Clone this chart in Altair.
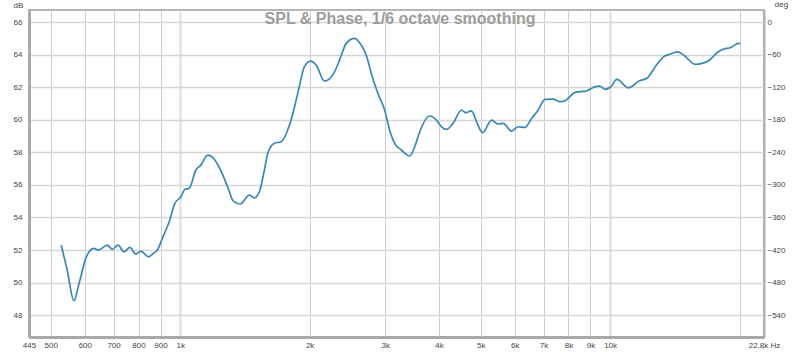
import altair as alt
import pandas as pd

chart_title = ["SPL & Phase, 1/6 octave smoothing"]

freq_hz = [529, 546, 566, 582, 605, 630, 645, 677, 695, 717, 740, 764, 788, 810,
           844, 870, 885, 909, 943, 972, 1004, 1026, 1049, 1088, 1117, 1158, 1190,
           1244, 1289, 1329, 1380, 1448, 1488, 1528, 1570, 1598, 1656, 1717, 1811,
           1877, 1945, 2009, 2072, 2166, 2286, 2348, 2433, 2544, 2637, 2709, 2783,
           2884, 2989, 3070, 3154, 3269, 3419, 3512, 3607, 3805, 3945, 4053, 4163,
           4313, 4511, 4616, 4760, 4890, 5050, 5300, 5490, 5640, 5900, 6114, 6338,
           6569, 6806, 7054, 7376, 7645, 7857, 8287, 8823, 9143, 9443, 9734, 10037,
           10365, 11033, 11703, 12176, 12733, 13311, 13800, 14353, 14823, 15782,
           16361, 16947, 17730, 18369, 19042, 19910, 20090]
spl_db = [52.30, 50.77, 48.88, 49.95, 51.58, 52.10, 52.00, 52.30, 52.04, 52.30,
          51.89, 52.16, 51.75, 51.93, 51.58, 51.83, 52.00, 52.72, 53.74, 54.87,
          55.27, 55.73, 55.79, 56.92, 57.22, 57.84, 57.70, 56.87, 55.89, 55.01,
          54.83, 55.38, 55.21, 55.58, 56.92, 57.94, 58.56, 58.66, 59.99, 61.63,
          63.27, 63.62, 63.37, 62.39, 62.96, 63.68, 64.71, 65.02, 64.60, 63.99,
          62.86, 61.63, 60.61, 59.38, 58.56, 58.15, 57.78, 58.35, 59.27, 60.24,
          59.99, 59.58, 59.42, 59.79, 60.61, 60.44, 60.56, 59.89, 59.21, 59.99,
          59.75, 59.79, 59.31, 59.58, 59.54, 60.10, 60.61, 61.26, 61.28, 61.12,
          61.18, 61.69, 61.79, 62.00, 62.08, 61.88, 62.04, 62.49, 61.98, 62.41,
          62.56, 63.27, 63.88, 64.05, 64.19, 63.99, 63.42, 63.48, 63.64, 64.13,
          64.36, 64.44, 64.71, 64.71]

x_ticks = [445, 500, 600, 700, 800, 900, 1000, 2000, 3000, 4000, 5000, 6000,
           7000, 8000, 9000, 10000, 20000, 22800]
x_tick_labels = ["445", "500", "600", "700", "800", "900", "1k", "2k", "3k", "4k",
                 "5k", "6k", "7k", "8k", "9k", "10k", "", "22,8k Hz"]
db_ticks = [48, 50, 52, 54, 56, 58, 60, 62, 64, 66]
deg_ticks = [0, -60, -120, -180, -240, -300, -360, -420, -480, -540]
db_domain = [46.65, 66.76]
deg_domain = [-580.5, 22.8]
x_domain = [445, 22800]

W, H = 735, 327
FONT = "Liberation Sans"

df = pd.DataFrame({"freq": freq_hz, "spl": spl_db})

label_expr = "''"
for v, t in reversed(list(zip(x_ticks, x_tick_labels))):
    label_expr = f"datum.value == {v} ? '{t}' : ({label_expr})"

x_enc = alt.X(
    "freq:Q",
    scale=alt.Scale(type="log", domain=x_domain, nice=False),
    axis=alt.Axis(
        values=x_ticks, labelExpr=label_expr, title=None, ticks=False, tickSize=0,
        labelPadding=4, labelFontSize=8, labelColor="#444", labelFont=FONT,
        labelFlush=False, labelOverlap=False,
        domainColor="#a9a9a9", domainWidth=3,
        grid=True,
        gridColor={"condition": {"test": "datum.value == 1000 || datum.value == 10000",
                                 "value": "#dedede"}, "value": "#cdcdcd"},
        gridWidth={"condition": {"test": "datum.value == 1000 || datum.value == 10000",
                                 "value": 2}, "value": 1},
    ),
)

line = alt.Chart(df).mark_line(
    color="#3a88b5", strokeWidth=1.7, clip=True, interpolate="monotone"
).encode(
    x=x_enc,
    y=alt.Y(
        "spl:Q",
        scale=alt.Scale(domain=db_domain, nice=False, zero=False),
        axis=alt.Axis(
            values=db_ticks, title="dB", titleAngle=0, titleX=-11, titleY=-5,
            titleAlign="center", titleBaseline="middle", titleFontSize=8,
            titleFontWeight="normal", titleColor="#444", titleFont=FONT,
            ticks=False, tickSize=0, labelPadding=7, labelFontSize=8,
            labelColor="#444", labelFont=FONT,
            domainColor="#a9a9a9", domainWidth=3,
            grid=True, gridColor="#d6d6d6", gridWidth=1.5,
        ),
    ),
)

phase_axis = alt.Chart(df).mark_line(opacity=0).transform_calculate(
    deg="(datum.spl - 66) * 30"
).encode(
    x=alt.X("freq:Q", scale=alt.Scale(type="log", domain=x_domain, nice=False)),
    y=alt.Y(
        "deg:Q",
        scale=alt.Scale(domain=deg_domain, nice=False, zero=False),
        axis=alt.Axis(
            orient="right", values=deg_ticks, title="deg", titleAngle=0,
            titleX=17, titleY=-6, titleAlign="center", titleBaseline="middle",
            titleFontSize=8, titleFontWeight="normal", titleColor="#444",
            titleFont=FONT, ticks=False, tickSize=0, labelPadding=3,
            labelFontSize=8, labelColor="#444", labelFont=FONT,
            domainColor="#b0b0b0", domainWidth=2, grid=False,
        ),
    ),
)

title_layer = alt.Chart(pd.DataFrame({"t": chart_title})).mark_text(
    fontSize=16, fontWeight="bold", color="#9c9c9c", font=FONT,
    align="center", baseline="middle",
).encode(text="t:N", x=alt.value(371), y=alt.value(9))

chart = (
    alt.layer(line, phase_axis, title_layer)
    .resolve_scale(y="independent")
    .properties(
        width=W, height=H,
        autosize=alt.AutoSizeParams(type="none"),
        padding={"left": 29, "top": 10, "right": 36, "bottom": 15},
        background="white",
    )
    .configure_view(stroke="#b5b5b5", strokeWidth=2)
)

chart.save("out.html", embed_options={"renderer": "svg", "actions": False})
